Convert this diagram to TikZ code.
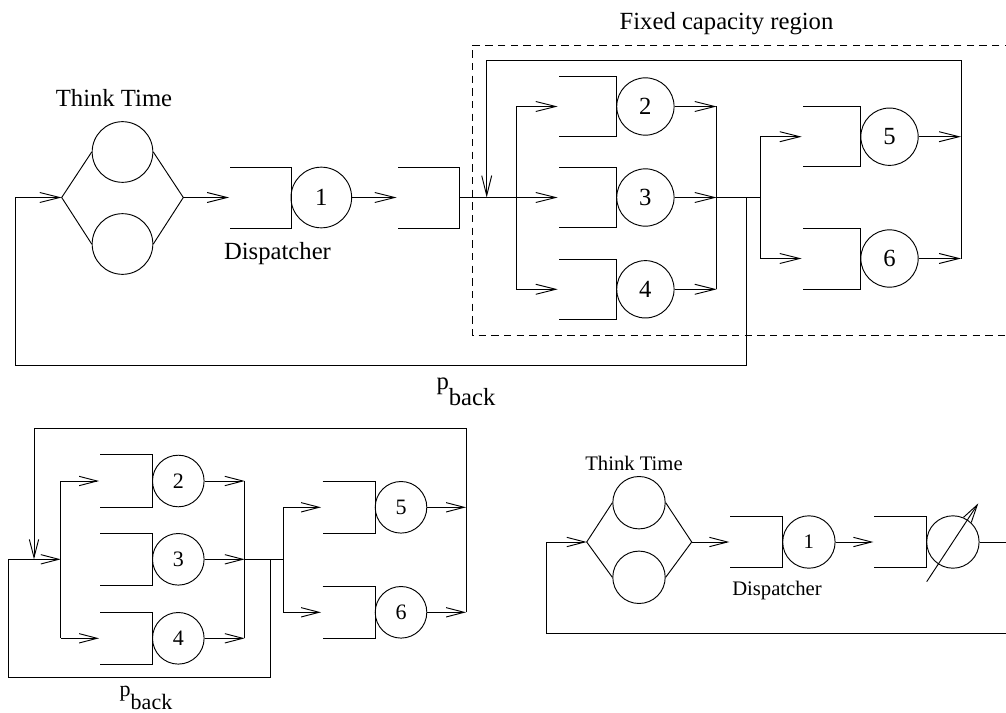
\documentclass[tikz,border=0pt]{standalone}
\usepackage{fontspec}
\setmainfont{Liberation Serif}
\usetikzlibrary{arrows.meta}
\begin{document}
\begin{tikzpicture}[x=0.75pt,y=-0.75pt,line width=0.7pt,
  arr/.style={-{Straight Barb[length=15pt,width=7.5pt,line width=0.7pt]}},
  arrS/.style={-{Straight Barb[length=13.5pt,width=7pt,line width=0.7pt]}},
  bigf/.style={font=\fontsize{18.5}{22}\selectfont},
  midf/.style={font=\fontsize{16.5}{20}\selectfont},
  smlf/.style={font=\fontsize{15.5}{19}\selectfont},
  srvT/.style={draw,circle,inner sep=0pt,minimum size=45.5pt,bigf},
  srvA/.style={draw,circle,inner sep=0pt,minimum size=43pt,bigf},
  srvB/.style={draw,circle,inner sep=0pt,minimum size=38.7pt,midf},
  srvC/.style={draw,circle,inner sep=0pt,minimum size=39.3pt,smlf},
  region/.style={dash pattern=on 5.5pt off 4pt}]
\useasboundingbox (0,0) rectangle (1006,713);

%================ TOP =================
\node[srvT] (t1) at (122.5,152) {};
\node[srvT] (t2) at (122.5,244) {};
\coordinate (dL) at (61.7,197.5);
\coordinate (dR) at (183.3,197.5);
\draw (t1.west) -- (dL) -- (t2.west);
\draw (t1.east) -- (dR) -- (t2.east);
\node[bigf,anchor=base] (ttl) at (114,106.7) {Think Time};

\coordinate (q1in) at (229,197.5);
\draw[arr] (dR) -- (q1in);
\draw (230,167.7) -| (291,228.3) -- (230,228.3);
\node[srvT] (s1) at (321.3,197.5) {1};
\node[bigf,anchor=base] (disp) at (277.5,259) {Dispatcher};

\coordinate (qin) at (396.7,197.5);
\draw[arr] (s1.east) -- (qin);
\draw (398,167.7) -| (459.3,228.3) -- (398,228.3);
\coordinate (qout) at (459.3,197.5);
\coordinate (sp1) at (516,197.5);
\draw (qout) -- (sp1);

% dashed region
\draw[region] (1012,45) -- (472.7,45) -- (472.7,335.7) -- (1012,335.7);
\node[bigf,anchor=base] (fcr) at (726.5,29.3) {Fixed capacity region};

% split to 2,3,4
\coordinate (sp1t) at (516,106.5);
\coordinate (sp1b) at (516,289.3);
\draw (sp1t) -- (sp1b);
\coordinate (i2) at (557.7,106.5);
\coordinate (i3) at (557.7,197.5);
\coordinate (i4) at (557.7,289.3);
\draw[arr] (sp1t) -- (i2);
\draw[arr] (sp1) -- (i3);
\draw[arr] (sp1b) -- (i4);
\draw (559.3,76.2) -| (616.7,136.8) -- (559.3,136.8);
\draw (559.3,167.2) -| (616.7,227.8) -- (559.3,227.8);
\draw (559.3,259) -| (616.7,319.6) -- (559.3,319.6);
\node[srvA] (s2) at (645.4,106.5) {2};
\node[srvA] (s3) at (645.4,197.5) {3};
\node[srvA] (s4) at (645.4,289.3) {4};

\coordinate (j1t) at (716.7,106.5);
\coordinate (j1) at (716.7,197.5);
\coordinate (j1b) at (716.7,289.3);
\draw[arr] (s2.east) -- (j1t);
\draw[arr] (s3.east) -- (j1);
\draw[arr] (s4.east) -- (j1b);
\draw (j1t) -- (j1b);
\coordinate (sp2) at (760,197.5);
\coordinate (bk) at (746,197.5);
\draw (j1) -- (sp2);

% split to 5,6
\coordinate (sp2t) at (760,136.7);
\coordinate (sp2b) at (760,258.5);
\draw (sp2t) -- (sp2b);
\coordinate (i5) at (801.7,136.7);
\coordinate (i6) at (801.7,258.5);
\draw[arr] (sp2t) -- (i5);
\draw[arr] (sp2b) -- (i6);
\draw (803.3,106.7) -| (860.7,166.7) -- (803.3,166.7);
\draw (803.3,228.5) -| (860.7,289.3) -- (803.3,289.3);
\node[srvA] (s5) at (889.5,136.7) {5};
\node[srvA] (s6) at (889.5,258.5) {6};
\coordinate (o5) at (961,136.7);
\coordinate (o6) at (961,258.5);
\draw[arr] (s5.east) -- (o5);
\draw[arr] (s6.east) -- (o6);

% feedback inside region
\coordinate (fbin) at (486.7,197.5);
\draw[arr] (o6) -- (961,60.7) -- (486.7,60.7) -- (fbin);

% p_back loop
\draw[arr] (bk) -- (746,365.7) -- (15.7,365.7) -- (15.7,197.5) -- (dL);
\node[bigf,anchor=base] (pb1) at (466,389) {p\raisebox{-12pt}{back}};

%================ BOTTOM LEFT =================
\coordinate (bsp) at (60.7,559.3);
\coordinate (bspt) at (60.7,481);
\coordinate (bspb) at (60.7,638.3);
\draw (bspt) -- (bspb);
\coordinate (bi2) at (99,481);
\coordinate (bi4) at (99,638.3);
\draw[arrS] (bspt) -- (bi2);
\draw[arrS] (bspb) -- (bi4);
\draw (100,454.5) -| (152.5,507.5) -- (100,507.5);
\draw (100,533.5) -| (152.5,585.5) -- (100,585.5);
\draw (100,612.3) -| (152.5,664.3) -- (100,664.3);
\node[srvB] (b2) at (178.3,481) {2};
\node[srvB] (b3) at (178.3,559.3) {3};
\node[srvB] (b4) at (178.3,638.3) {4};
\coordinate (bj) at (244.7,559.3);
\coordinate (bjt) at (244.7,481);
\coordinate (bjb) at (244.7,638.3);
\draw[arrS] (b2.east) -- (bjt);
\draw[arrS] (b3.east) -- (bj);
\draw[arrS] (b4.east) -- (bjb);
\draw (bjt) -- (bjb);
\coordinate (bsp2) at (283.3,559.3);
\coordinate (bbk) at (270,559.3);
\draw (bj) -- (bsp2);
\coordinate (bsp2t) at (283.3,507.3);
\coordinate (bsp2b) at (283.3,612.3);
\draw (bsp2t) -- (bsp2b);
\coordinate (bi5) at (321,507.3);
\coordinate (bi6) at (321,612.3);
\draw[arrS] (bsp2t) -- (bi5);
\draw[arrS] (bsp2b) -- (bi6);
\draw (322.7,481) -| (375,533.5) -- (322.7,533.5);
\draw (322.7,586) -| (375,638.5) -- (322.7,638.5);
\node[srvB] (b5) at (401,507.3) {5};
\node[srvB] (b6) at (401,612.3) {6};
\coordinate (bo5) at (466,507.3);
\coordinate (bo6) at (466,612.3);
\draw[arrS] (b5.east) -- (bo5);
\draw[arrS] (b6.east) -- (bo6);
\coordinate (bfb) at (34,559.3);
\draw[arrS] (bo6) -- (466,428.3) -- (34,428.3) -- (bfb);
\draw[arrS] (bbk) -- (270,677.3) -- (8,677.3) -- (8,559.3) -- (bsp);
\node[midf,anchor=base] (pb2) at (146,696) {p\raisebox{-10pt}{back}};

%================ BOTTOM RIGHT =================
\node[srvC] (r1) at (639,502.7) {};
\node[srvC] (r2) at (639,577.3) {};
\coordinate (rL) at (586.7,542);
\coordinate (rR) at (691.7,542);
\draw (r1.west) -- (rL) -- (r2.west);
\draw (r1.east) -- (rR) -- (r2.east);
\node[smlf,anchor=base] (rtt) at (634,470) {Think Time};
\coordinate (rqin) at (729.3,542);
\draw[arrS] (rR) -- (rqin);
\draw (730,516) -| (782.7,567.7) -- (730,567.7);
\node[srvC] (rs1) at (808.9,542) {1};
\node[smlf,anchor=base] (rdisp) at (777,595.3) {Dispatcher};
\coordinate (rq2in) at (873.3,542);
\draw[arrS] (rs1.east) -- (rq2in);
\draw (874.3,516) -| (926.7,567.7) -- (874.3,567.7);
\node[srvC] (rv) at (952.9,542) {};
\coordinate (vs) at (926.7,581.7);
\coordinate (ve) at (978.3,503.3);
\draw[arrS] (vs) -- (ve);
\coordinate (rout) at (1012,542);
\draw (rv.east) -- (rout);
\draw[arrS] (1012,633.3) -- (546.7,633.3) -- (546.7,542) -- (rL);
\end{tikzpicture}
\end{document}
